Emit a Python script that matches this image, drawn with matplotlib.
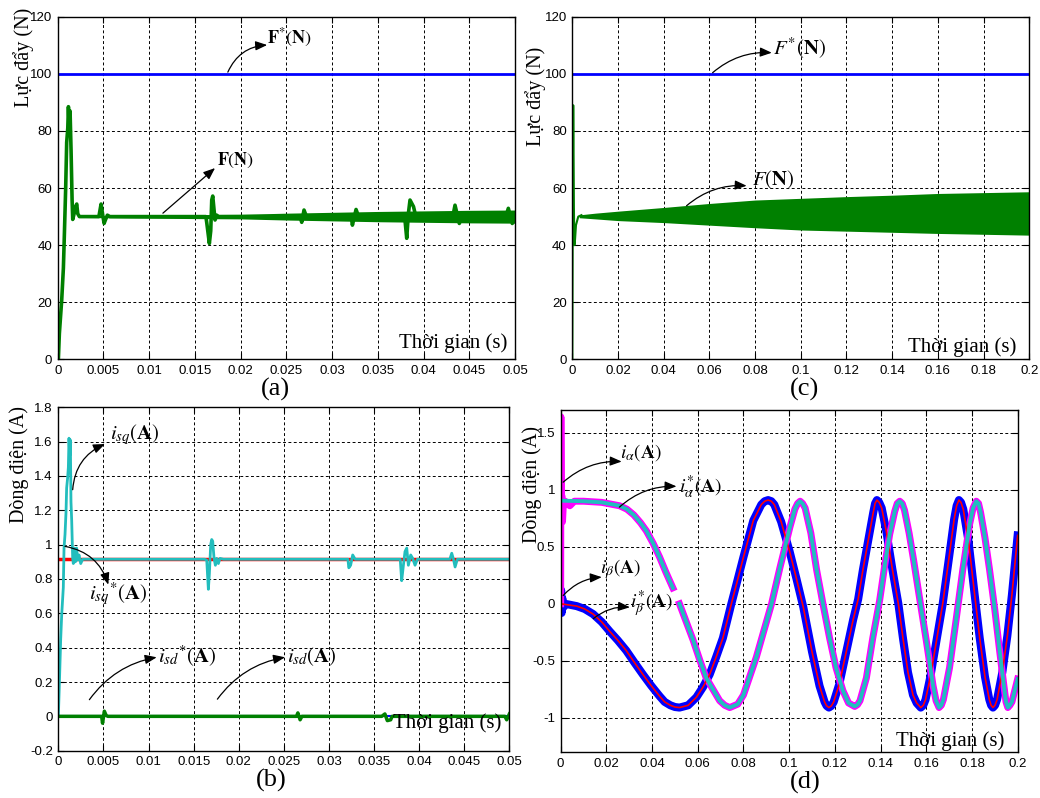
import numpy as np
import matplotlib
matplotlib.use('Agg')
import matplotlib.pyplot as plt
from matplotlib.ticker import MultipleLocator, FuncFormatter

plt.rcParams['font.family'] = ['Liberation Sans', 'DejaVu Sans']
plt.rcParams['mathtext.fontset'] = 'stix'
plt.rcParams['lines.solid_joinstyle'] = 'round'
SERIF = ['Liberation Serif', 'DejaVu Serif']

# ---------------- (a) luc day, 0 - 0.05 s
a_ref_t = [0, 0.05]
a_ref_F = [100, 100]
a_t = [0, 0.00007, 0.00018, 0.00044, 0.00062, 0.00073, 0.00087, 0.00098, 0.0011, 0.00117,
       0.00128, 0.00135, 0.00146, 0.00157, 0.00164, 0.00179, 0.00195, 0.00208, 0.00219, 0.00237,
       0.0026, 0.0045, 0.00474, 0.0049, 0.00507, 0.00521, 0.00543, 0.0057, 0.0162, 0.01629,
       0.01658, 0.01673, 0.01684, 0.01695, 0.01706, 0.0172, 0.01738, 0.0176, 0.0265, 0.02668,
       0.02693, 0.0272, 0.0321, 0.03222, 0.03262, 0.0329, 0.0378, 0.03797, 0.03816, 0.03834,
       0.03852, 0.0389, 0.03925, 0.0396, 0.0432, 0.04344, 0.04391, 0.0442, 0.0490, 0.04927,
       0.0497, 0.05]
a_F = [0, 0, 9, 21, 32, 44, 60, 76, 81, 88.5,
       79, 87, 73, 56, 49, 51, 53.5, 54.4, 51, 50,
       50, 50, 54.4, 51, 47.6, 48.8, 50.5, 50, 50, 48,
       40.6, 45, 55.8, 57.2, 53.5, 48.8, 50.5, 50, 50, 48,
       52.3, 50, 50, 47, 52.5, 50, 50, 48.8, 42.4, 51,
       55.8, 53.5, 48.8, 51, 50, 54, 47.6, 50, 50, 52.9,
       47.6, 49]
# do day dao dong cua F
a_band_t = [0.0025, 0.008, 0.015, 0.02, 0.025, 0.03, 0.035, 0.04, 0.045, 0.05]
a_band_hi = [50.3, 50.5, 50.7, 50.8, 51.2, 51.5, 51.8, 52.0, 52.2, 52.3]
a_band_lo = [49.7, 49.5, 49.3, 49.2, 48.8, 48.5, 48.2, 48.0, 47.8, 47.7]

# ---------------- (c) luc day, 0 - 0.2 s
c_ref_t = [0, 0.2]
c_ref_F = [100, 100]
c_t = [0, 0.0002, 0.0004, 0.0005, 0.0007, 0.0009, 0.0012, 0.0016, 0.0026, 0.004]
c_F = [0, 60, 89, 80, 53, 40, 42, 47, 50, 50.5]
c_band_t = [0.003, 0.01, 0.02, 0.04, 0.06, 0.08, 0.1, 0.12, 0.14, 0.16, 0.18, 0.2]
c_band_hi = [50.6, 51.2, 51.9, 53.2, 54.6, 55.8, 56.4, 57.0, 57.5, 58.1, 58.4, 58.7]
c_band_lo = [49.6, 49.2, 48.6, 47.9, 47.0, 46.1, 45.3, 44.9, 44.5, 44.1, 43.8, 43.5]

# ---------------- (b) dong dien isd, isq
b_ref_t = [0, 0.05]
b_isq_ref = [0.915, 0.915]
b_isd_ref = [0, 0]
b_t = [0, 0.00012, 0.00026, 0.00037, 0.00055, 0.00063, 0.00074, 0.00085, 0.00092, 0.00103,
       0.00111, 0.00118, 0.00126, 0.00133, 0.0014, 0.00148, 0.00159, 0.00166, 0.00177, 0.00189,
       0.00203, 0.00214, 0.00229, 0.00248, 0.0027, 0.0162, 0.01645, 0.01663, 0.01674, 0.01689,
       0.017, 0.01711, 0.01726, 0.01741, 0.01755, 0.01774, 0.01792, 0.0183, 0.0321, 0.0322,
       0.0324, 0.03263, 0.0329, 0.0379, 0.03806, 0.03825, 0.03843, 0.03862, 0.0388, 0.03906,
       0.03928, 0.03954, 0.0398, 0.0434, 0.04361, 0.0438, 0.04398, 0.04423, 0.05]
b_isq = [0, 0.2, 0.45, 0.59, 0.75, 0.98, 1.06, 1.19, 1.33, 1.39,
         1.45, 1.62, 1.52, 1.61, 1.25, 1.14, 0.92, 0.89, 0.98, 0.9,
         0.98, 0.91, 0.94, 0.89, 0.915, 0.915, 0.91, 0.74, 0.83, 1.0,
         1.03, 1.02, 0.92, 0.88, 0.92, 0.89, 0.92, 0.915, 0.915, 0.865,
         0.88, 0.94, 0.915, 0.915, 0.79, 0.88, 0.96, 0.98, 0.88, 0.94,
         0.92, 0.88, 0.915, 0.915, 0.95, 0.915, 0.87, 0.915, 0.915]
b_tsd = [0, 0.0048, 0.0049, 0.0051, 0.0053, 0.0055, 0.0264, 0.02655, 0.0268,
         0.0270, 0.03585, 0.0362, 0.03647, 0.03684, 0.0370, 0.0495, 0.0497, 0.05]
b_isd = [0, 0, -0.04, 0.03, 0.005, 0, 0, 0.02, -0.02,
         0, 0, 0.014, -0.025, -0.02, 0, 0, -0.02, 0.014]

# ---------------- (d) dong dien i_alpha, i_beta
d_ta = [0, 0.01, 0.018, 0.0258, 0.029, 0.032, 0.035, 0.0375, 0.0405, 0.0433,
        0.046, 0.0491, 0.0505, 0.052, 0.055, 0.058, 0.061, 0.0637, 0.0696, 0.0718,
        0.074, 0.0775, 0.080, 0.0856, 0.0923, 0.096,
        0.1003, 0.1025, 0.1037, 0.1048, 0.1059, 0.107, 0.1095, 0.112, 0.1148, 0.1177,
        0.1205, 0.1235, 0.126, 0.1287, 0.1299, 0.131, 0.1338, 0.1366, 0.1396, 0.142,
        0.144, 0.1462, 0.1473, 0.1484, 0.1495, 0.1505, 0.1525, 0.1545, 0.157, 0.16,
        0.163, 0.1643, 0.1656, 0.1666, 0.1675, 0.1702, 0.173, 0.176, 0.179, 0.1805,
        0.1819, 0.1829, 0.1838, 0.1857, 0.1877, 0.19, 0.1921, 0.194, 0.1949, 0.1957,
        0.1966, 0.1975, 0.2]
d_ia_ref = [0.905, 0.9, 0.89, 0.86, 0.83, 0.78, 0.71, 0.64, 0.53, 0.41,
            0.28, 0.14, np.nan, 0.0, -0.16, -0.32, -0.5, -0.65, -0.85, -0.89,
            -0.91, -0.88, -0.8, -0.47, 0, 0.32,
            0.67, 0.83, 0.88, 0.9, 0.88, 0.84, 0.62, 0.3, 0, -0.3,
            -0.56, -0.76, -0.87, -0.9, -0.885, -0.85, -0.65, -0.3, 0.03, 0.36,
            0.61, 0.81, 0.88, 0.9, 0.88, 0.82, 0.62, 0.38, 0.06, -0.32,
            -0.72, -0.85, -0.91, -0.89, -0.84, -0.56, -0.15, 0.3, 0.7, 0.84,
            0.9, 0.88, 0.8, 0.58, 0.3, -0.05, -0.41, -0.72, -0.86, -0.91,
            -0.89, -0.86, -0.66]
d_tb = [0, 0.007, 0.0105, 0.0142, 0.018, 0.0214, 0.025, 0.0287, 0.0323, 0.036,
        0.0397, 0.0433, 0.0455, 0.048, 0.050, 0.052, 0.0558,
        0.0594, 0.0623, 0.0652, 0.068, 0.071, 0.0747, 0.0773, 0.080, 0.0843, 0.0878,
        0.0893, 0.0908, 0.0922,
        0.0935, 0.0965, 0.1002, 0.1032, 0.1062, 0.1100, 0.1133, 0.1155, 0.1164, 0.1174,
        0.1185, 0.1195, 0.122, 0.125, 0.128, 0.1302, 0.1323, 0.135, 0.1368, 0.1376,
        0.1384, 0.1394, 0.1405, 0.1425, 0.1452, 0.1478, 0.1498, 0.152, 0.1542, 0.1558,
        0.1576, 0.1587, 0.1597, 0.1618, 0.164, 0.1672, 0.170, 0.1722, 0.1733, 0.1743,
        0.1752, 0.1762, 0.1785, 0.1813, 0.1834, 0.1857, 0.1876, 0.1884, 0.1892, 0.1901,
        0.191, 0.1933, 0.1955, 0.1975, 0.2]
d_ib_ref = [0, -0.02, -0.045, -0.09, -0.16, -0.24, -0.32, -0.41, -0.515, -0.62,
            -0.72, -0.81, -0.86, -0.89, -0.905, -0.91, -0.89,
            -0.82, -0.73, -0.62, -0.47, -0.3, 0, 0.2, 0.41, 0.73, 0.87,
            0.9, 0.91, 0.9,
            0.87, 0.72, 0.46, 0.22, -0.03, -0.42, -0.72, -0.86, -0.895, -0.91,
            -0.895, -0.86, -0.7, -0.42, -0.14, 0.04, 0.3, 0.6, 0.8, 0.88,
            0.91, 0.89, 0.84, 0.64, 0.3, 0, -0.3, -0.6, -0.8, -0.87,
            -0.91, -0.89, -0.84, -0.64, -0.38, 0, 0.41, 0.74, 0.86, 0.91,
            0.89, 0.83, 0.55, 0.06, -0.3, -0.64, -0.84, -0.89, -0.91, -0.89,
            -0.84, -0.6, -0.28, 0.08, 0.6]
# qua do luc khoi dong cua dong do duoc
d_ta_start = [0, 0.0001, 0.0003, 0.0005, 0.0008, 0.0012, 0.002, 0.004, 0.006]
d_ia_start = [0, 1.64, 0.85, 0.95, 0.72, 0.88, 0.9, 0.86, 0.9]
d_tb_start = [0, 0.0002, 0.0004, 0.0007, 0.0012, 0.002]
d_ib_start = [0, 0.12, -0.08, 0.05, -0.03, 0]

GREEN = '#008000'
BLUE = '#0000ff'
CYAN = '#22bdbd'
RED = '#ff0000'
MAGENTA = '#ff00ff'


def gfmt(v, pos):
    return '%g' % (round(v, 6) + 0.0)


def setup_axes(ax, xmax, xstep, ylim, ystep):
    ax.set_xlim(0, xmax)
    ax.set_ylim(*ylim)
    ax.xaxis.set_major_locator(MultipleLocator(xstep))
    ax.yaxis.set_major_locator(MultipleLocator(ystep))
    ax.xaxis.set_major_formatter(FuncFormatter(gfmt))
    ax.yaxis.set_major_formatter(FuncFormatter(gfmt))
    ax.set_axisbelow(True)
    ax.grid(True, color='k', linestyle=(0, (3, 2.5)), linewidth=0.7)
    ax.tick_params(direction='in', length=4, top=True, right=True, labelsize=9.5, pad=4)
    for s in ax.spines.values():
        s.set_linewidth(1.0)


def arrow_label(ax, text, tail, head, txt, rad, size):
    ax.annotate('', xy=head, xytext=tail,
                arrowprops=dict(arrowstyle='-|>,head_length=0.7,head_width=0.28',
                                color='k', lw=0.9, shrinkA=0, shrinkB=0,
                                connectionstyle='arc3,rad=%s' % rad))
    ax.text(txt[0], txt[1], text, fontsize=size, ha='left', va='center')


def side_label(ax, text, x, y):
    ax.text(x, y, text, transform=ax.transAxes, rotation=90, ha='center', va='center',
            rotation_mode='anchor', family=SERIF, fontsize=14.5)


def time_label(ax, x, y):
    ax.text(x, y, 'Thời gian (s)', ha='right', va='center', family=SERIF, fontsize=15)


fig = plt.figure(figsize=(10.4, 7.98), dpi=100)
ax_a = fig.add_axes([0.0555, 0.5497, 0.4397, 0.4293])
ax_c = fig.add_axes([0.5503, 0.5497, 0.4394, 0.4293])
ax_b = fig.add_axes([0.0561, 0.0593, 0.4337, 0.4303])
ax_d = fig.add_axes([0.5391, 0.0576, 0.4394, 0.4286])

# (a)
setup_axes(ax_a, 0.05, 0.005, (0, 120), 20)
ax_a.plot(a_ref_t, a_ref_F, color=BLUE, lw=2)
ax_a.fill_between(a_band_t, a_band_lo, a_band_hi, color=GREEN, lw=0)
ax_a.plot(a_t, a_F, color=GREEN, lw=2.6)
arrow_label(ax_a, r'$\mathbf{F}^{*}\left(\mathbf{N}\right)$',
            (0.0186, 100.6), (0.0229, 110.1), (0.0229, 112.6), -0.3, 13)
arrow_label(ax_a, r'$\mathbf{F}\left(\mathbf{N}\right)$',
            (0.0115, 51.2), (0.0172, 67), (0.0174, 69.8), 0, 13)
side_label(ax_a, 'Lực đẩy (N)', -0.074, 0.882)
time_label(ax_a, 0.0492, 5.8)

# (c)
setup_axes(ax_c, 0.2, 0.02, (0, 120), 20)
ax_c.plot(c_ref_t, c_ref_F, color=BLUE, lw=2)
ax_c.fill_between(c_band_t, c_band_lo, c_band_hi, color=GREEN, lw=0)
ax_c.plot(c_t, c_F, color=GREEN, lw=1.5)
arrow_label(ax_c, r'$F^{*}\left(\mathbf{N}\right)$',
            (0.0614, 100.4), (0.0873, 107.4), (0.088, 109), -0.2, 15)
arrow_label(ax_c, r'$F\left(\mathbf{N}\right)$',
            (0.050, 53.8), (0.0763, 60.8), (0.0785, 62.8), -0.2, 15)
side_label(ax_c, 'Lực đẩy (N)', -0.080, 0.767)
time_label(ax_c, 0.1945, 4.4)

# (b)
setup_axes(ax_b, 0.05, 0.005, (-0.2, 1.8), 0.2)
ax_b.plot(b_ref_t, b_isq_ref, color=RED, lw=2.5)
ax_b.plot(b_t, b_isq, color=CYAN, lw=2)
ax_b.plot(b_ref_t, b_isd_ref, color=BLUE, lw=1.5)
ax_b.plot(b_tsd, b_isd, color=GREEN, lw=2.5)
arrow_label(ax_b, r'$i_{sq}\left(\mathbf{A}\right)$',
            (0.00159, 1.32), (0.00517, 1.586), (0.0057, 1.64), -0.3, 15)
arrow_label(ax_b, r'$i_{sq}{}^{*}\left(\mathbf{A}\right)$',
            (0.00074, 0.99), (0.00554, 0.767), (0.0034, 0.71), -0.3, 15)
arrow_label(ax_b, r'$i_{sd}{}^{*}\left(\mathbf{A}\right)$',
            (0.00344, 0.097), (0.0109, 0.344), (0.0111, 0.35), -0.2, 15)
arrow_label(ax_b, r'$i_{sd}\left(\mathbf{A}\right)$',
            (0.01763, 0.10), (0.02513, 0.344), (0.0253, 0.35), -0.2, 15)
side_label(ax_b, 'Dòng điện (A)', -0.087, 0.832)
time_label(ax_b, 0.04915, -0.039)

# (d)
setup_axes(ax_d, 0.2, 0.02, (-1.3, 1.7), 0.5)
d_ta = np.array(d_ta)
d_tb = np.array(d_tb)
d_ia = np.concatenate([d_ia_start, np.array(d_ia_ref)[d_ta > 0.006]])
d_ta_meas = np.concatenate([d_ta_start, d_ta[d_ta > 0.006]])
d_ib = np.concatenate([d_ib_start, np.array(d_ib_ref)[d_tb > 0.002]])
d_tb_meas = np.concatenate([d_tb_start, d_tb[d_tb > 0.002]])
ax_d.plot(d_tb_meas, d_ib, color=BLUE, lw=5.8)
ax_d.plot(d_ta_meas, d_ia, color=MAGENTA, lw=5)
ax_d.plot(d_tb, d_ib_ref, color=RED, lw=1.2)
ax_d.plot(d_ta, d_ia_ref, color=CYAN, lw=2.8)
arrow_label(ax_d, r'$i_{\alpha}\left(\mathbf{A}\right)$',
            (0.0011, 1.067), (0.0267, 1.248), (0.026, 1.33), -0.2, 14)
arrow_label(ax_d, r'$i_{\alpha}^{*}\left(\mathbf{A}\right)$',
            (0.0257, 0.848), (0.0507, 1.03), (0.052, 1.02), -0.2, 14)
arrow_label(ax_d, r'$i_{\beta}\left(\mathbf{A}\right)$',
            (0.0011, 0.073), (0.018, 0.234), (0.0172, 0.307), -0.2, 14)
arrow_label(ax_d, r'$i_{\beta}^{*}\left(\mathbf{A}\right)$',
            (0.0143, -0.13), (0.0303, -0.03), (0.0304, 0.0), -0.2, 14)
side_label(ax_d, 'Dòng điện (A)', -0.062, 0.781)
time_label(ax_d, 0.1943, -1.2)

# nhan cac hinh con
for lab, x, y in [('(a)', 0.2644, 0.5125), ('(c)', 0.774, 0.5125),
                  ('(b)', 0.2606, 0.0226), ('(d)', 0.774, 0.020)]:
    fig.text(x, y, lab, ha='center', va='center', family=SERIF, fontsize=19)

fig.savefig('out.png', dpi=100)
